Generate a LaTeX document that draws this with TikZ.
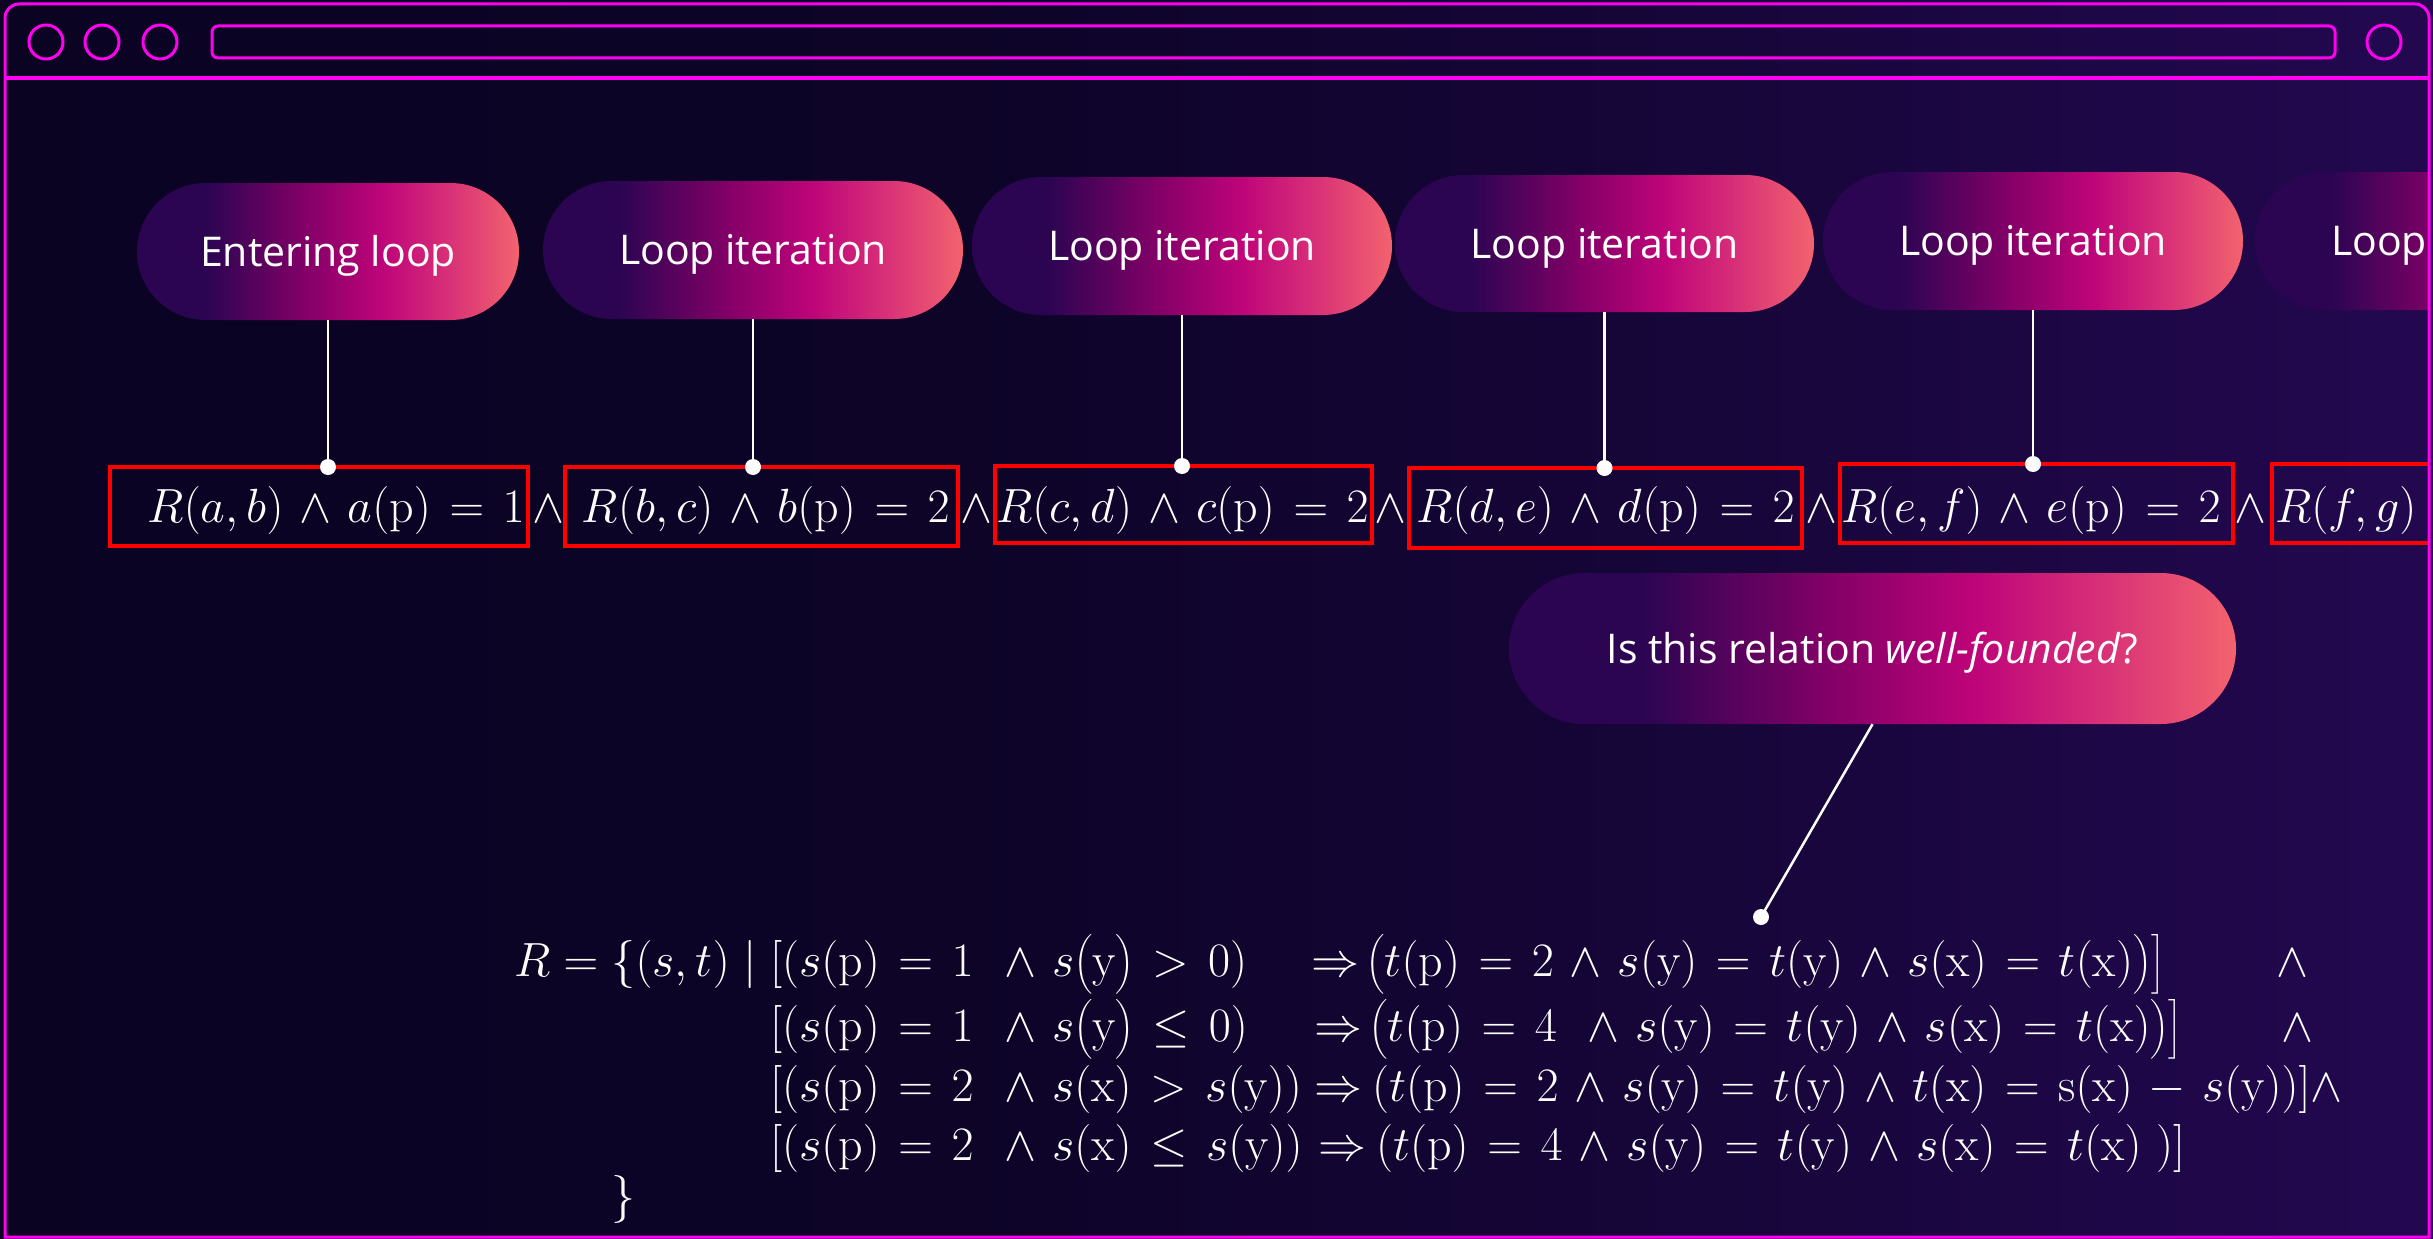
\RequirePackage{fix-cm}
\documentclass[tikz,border=0pt]{standalone}
\usepackage{amsmath}
\usepackage{fontspec}
\newfontfamily\pillfont{Open Sans}
\usetikzlibrary{shapes.misc}

\definecolor{mag}{RGB}{255,0,240}
\definecolor{bgA}{RGB}{10,3,34}
\definecolor{bgB}{RGB}{13,4,40}
\definecolor{bgM}{RGB}{24,6,60}
\definecolor{bgC}{RGB}{35,8,80}
\definecolor{pA}{RGB}{43,5,82}
\definecolor{pB}{RGB}{134,0,104}
\definecolor{pC}{RGB}{190,4,121}
\definecolor{pD}{RGB}{214,44,120}
\definecolor{pE}{RGB}{242,99,110}
\definecolor{boxred}{RGB}{255,0,0}

\pgfdeclarehorizontalshading{pillshade}{100bp}{color(0bp)=(pA); color(25bp)=(pA); color(34bp)=(pA); color(47.5bp)=(pB); color(57bp)=(pC); color(65bp)=(pD); color(75bp)=(pE); color(100bp)=(pE)}
\pgfdeclarehorizontalshading{bgshade}{100bp}{color(0bp)=(bgA); color(25bp)=(bgA); color(45bp)=(bgB); color(62bp)=(bgM); color(75bp)=(bgC); color(100bp)=(bgC)}

\newcommand{\mathsp}{\thickmuskip=7mu\medmuskip=6mu}

\tikzset{
  pill/.style={rounded rectangle, shade, shading=pillshade, minimum height=138pt, minimum width=420pt,
    inner sep=0pt, text=white, font=\pillfont\fontsize{41}{48}\selectfont, text height=29pt, text depth=0pt},
  redbox/.style={draw=boxred, line width=4pt, rectangle, inner sep=0pt, outer sep=0pt},
  term/.style={text=white, font=\fontsize{48}{56}\selectfont\mathsp, inner sep=0pt},
  link/.style={draw=white, line width=2.5pt},
  dot/.style={circle, fill=white, inner sep=0pt, minimum size=16pt},
  frameline/.style={draw=mag, line width=3pt},
}

\begin{document}
\begin{tikzpicture}[x=1pt, y=-1pt]
\useasboundingbox (0,0) rectangle (2433,1239);
\shade[shading=bgshade] (0,0) rectangle (2433,1239);

\begin{scope}
\clip (5,4) rectangle (2428,1237);
% pills
\node[pill, minimum width=382pt, minimum height=137pt] (p1) at (328,251.5) {Entering loop};
\node[pill] (p2) at (753,250) {Loop iteration};
\node[pill] (p3) at (1182,246) {Loop iteration};
\node[pill, minimum width=419pt, minimum height=137pt] (p4) at (1604.5,243.5) {Loop iteration};
\node[pill] (p5) at (2033,241) {Loop iteration};
\node[pill] (p6) at (2465,241) {Loop iteration};

% red boxes
\node[redbox, minimum width=418pt, minimum height=79pt] (b1) at (319,506.5) {};
\node[redbox, minimum width=393pt, minimum height=79pt] (b2) at (761.5,506.5) {};
\node[redbox, minimum width=377pt, minimum height=77pt] (b3) at (1183.5,504.5) {};
\node[redbox, minimum width=393pt, minimum height=80pt] (b4) at (1605.5,508) {};
\node[redbox, minimum width=393pt, minimum height=79pt] (b5) at (2036.5,503.5) {};
\node[redbox, minimum width=198pt, minimum height=79pt] (b6) at (2371,503.5) {};

% terms
\node[term, anchor=base east] (t1) at (525,522) {$R(a,b)\wedge a(\mathrm{p})=1$};
\node[term, anchor=base east] (t2) at (950,522) {$R(b,c)\wedge b(\mathrm{p})=2$};
\node[term, anchor=base east] (t3) at (1369,522) {$R(c,d)\wedge c(\mathrm{p})=2$};
\node[term, anchor=base east] (t4) at (1795,522) {$R(d,e)\wedge d(\mathrm{p})=2$};
\node[term, anchor=base east] (t5) at (2221,522) {$R(e,f)\wedge e(\mathrm{p})=2$};
\node[term, anchor=base west] (t6) at (2275,522) {$R(f,g)$};
\node[term, anchor=base] (w1) at (548,522) {$\wedge$};
\node[term, anchor=base] (w2) at (976,522) {$\wedge$};
\node[term, anchor=base] (w3) at (1390,522) {$\wedge$};
\node[term, anchor=base] (w4) at (1821,522) {$\wedge$};
\node[term, anchor=base] (w5) at (2250,522) {$\wedge$};

% connectors
\foreach \i in {1,...,5}{
  \draw[link] (p\i.south) -- (p\i.south |- b\i.north) node[dot] (d\i) {};
}
\end{scope}

% question pill
\node[pill, minimum width=727pt, minimum height=151pt] (q) at (1872.5,648.5) {Is this relation \textit{well-founded}?};
\coordinate (qend) at (1761,917);
\draw[link] (q.south) -- (qend);
\node[dot] (qd) at (qend) {};

% relation definition
\node[term, anchor=base west] (r0) at (514,976) {$\thickmuskip=5mu R=\{(s,t)\mid{}$};
\node[term, anchor=base west] (c1) at (770,976) {$[(s(\mathrm{p})=1\ \wedge s\big(\mathrm{y}\big)>0)$};
\node[term, anchor=base west] (c2) at (770,1041) {$[(s(\mathrm{p})=1\ \wedge s\big(\mathrm{y}\big)\leq 0)$};
\node[term, anchor=base west] (c3) at (770,1101) {$[(s(\mathrm{p})=2\ \wedge s(\mathrm{x})>s(\mathrm{y}))$};
\node[term, anchor=base west] (c4) at (770,1160) {$[(s(\mathrm{p})=2\ \wedge s(\mathrm{x})\leq s(\mathrm{y}))$};
\node[term, anchor=base west] (i1) at (1311,976) {$\Rightarrow$};
\node[term, anchor=base west] (i2) at (1314,1041) {$\Rightarrow$};
\node[term, anchor=base west] (i3) at (1314,1101) {$\Rightarrow$};
\node[term, anchor=base west] (i4) at (1318,1160) {$\Rightarrow$};
\node[term, anchor=base west] (e1) at (1366,976) {$\big(t(\mathrm{p})=2\wedge s(\mathrm{y})=t(\mathrm{y})\wedge s(\mathrm{x})=t(\mathrm{x})\big)\big]$};
\node[term, anchor=base west] (e2) at (1369,1041) {$\big(t(\mathrm{p})=4\ \wedge s(\mathrm{y})=t(\mathrm{y})\wedge s(\mathrm{x})=t(\mathrm{x})\big)\big]$};
\node[term, anchor=base west] (e3) at (1372,1101) {$(t(\mathrm{p})=2\wedge s(\mathrm{y})=t(\mathrm{y})\wedge t(\mathrm{x})=\mathrm{s}(\mathrm{x})-s(\mathrm{y}))]\wedge$};
\node[term, anchor=base west] (e4) at (1376,1160) {$(t(\mathrm{p})=4\wedge s(\mathrm{y})=t(\mathrm{y})\wedge s(\mathrm{x})=t(\mathrm{x})\ )]$};
\node[term, anchor=base west] (a1) at (2276,976) {$\wedge$};
\node[term, anchor=base west] (a2) at (2281,1041) {$\wedge$};
\node[term, anchor=base west] (br) at (611,1211) {$\}$};

% window frame
\draw[frameline] (5,1237) -- (5,18) arc[start angle=180, end angle=270, radius=14]
  -- (2415,4) arc[start angle=270, end angle=360, radius=14] -- (2429,1237) -- cycle;
\draw[frameline] (5,78) -- (2429,78);
\draw[frameline] (46,42) circle[radius=17];
\draw[frameline] (102,42) circle[radius=17];
\draw[frameline] (160,42) circle[radius=17];
\draw[frameline] (2384,42) circle[radius=17];
\draw[frameline, rounded corners=6] (212,26) rectangle (2335,58);
\end{tikzpicture}
\end{document}
